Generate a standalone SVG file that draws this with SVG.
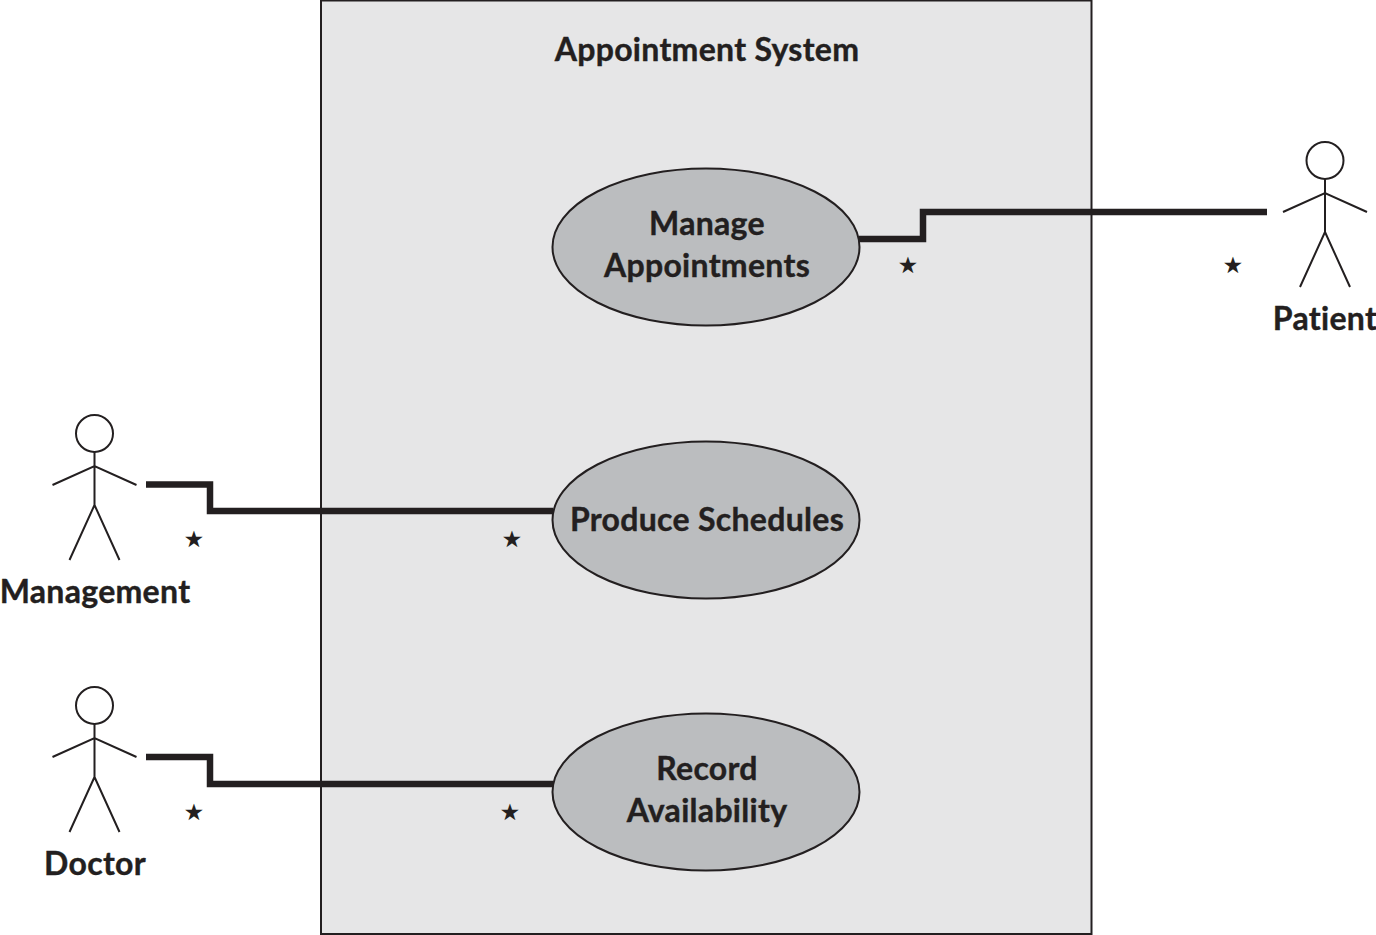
<svg xmlns="http://www.w3.org/2000/svg" width="1376" height="935" viewBox="0 0 1376 935">
<style>
.t{font-family:"Lato","Liberation Sans",sans-serif;font-weight:700;font-size:32px;letter-spacing:.3px;fill:#231f20;stroke:#231f20;stroke-width:.4px;text-anchor:middle}
.u{fill:#bbbdbf;stroke:#231f20;stroke-width:2}
.a{fill:none;stroke:#231f20;stroke-width:2}
.c{fill:none;stroke:#231f20;stroke-width:6.500}
.s{font-family:"DejaVu Sans",sans-serif;font-size:46px;fill:#231f20;text-anchor:middle}
</style>
<defs><g id="actor" class="a"><circle cx="0" cy="-46.500" r="18.500"/><path d="M0-28V25M-42 5L0-14L42 5M-25 80L0 25L25 80"/></g></defs>
<g id="system"><rect x="321" y="0.500" width="770.500" height="933.500" fill="#e6e6e7" stroke="#231f20" stroke-width="2"/><text class="t" x="707" y="61">Appointment System</text></g>
<g id="connectors">
<path class="c" d="M859 239H923V212H1267"/>
<path class="c" d="M146 484.500H210V511H553"/>
<path class="c" d="M146 757H210V784H553"/>
</g>
<g id="manage"><ellipse class="u" cx="706" cy="247" rx="153.500" ry="78.500"/><text class="t" x="707" y="235">Manage</text><text class="t" x="707" y="277">Appointments</text></g>
<g id="produce"><ellipse class="u" cx="706" cy="520" rx="153.500" ry="78.500"/><text class="t" x="707" y="531">Produce Schedules</text></g>
<g id="record"><ellipse class="u" cx="706" cy="792" rx="153.500" ry="78.500"/><text class="t" x="707" y="780">Record</text><text class="t" x="707" y="822">Availability</text></g>
<g id="patient"><use href="#actor" x="1325" y="207"/><text class="t" x="1325" y="330">Patient</text></g>
<g id="management"><use href="#actor" x="94.500" y="480"/><text class="t" x="95" y="603">Management</text></g>
<g id="doctor"><use href="#actor" x="94.500" y="752"/><text class="t" x="95" y="875">Doctor</text></g>
<g id="multiplicities">
<text class="s" x="908" y="280">⋆</text><text class="s" x="1233" y="280">⋆</text>
<text class="s" x="194" y="554">⋆</text><text class="s" x="512" y="554">⋆</text>
<text class="s" x="194" y="827">⋆</text><text class="s" x="510" y="827">⋆</text>
</g>
</svg>
